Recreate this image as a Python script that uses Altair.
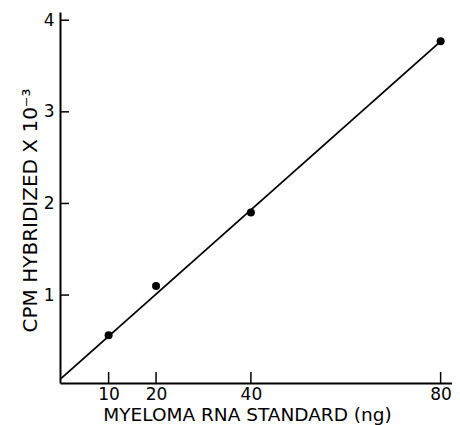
import altair as alt
import pandas as pd

# data
x_vals = [10, 20, 40, 80]
y_vals = [0.56, 1.10, 1.90, 3.77]
fit_x = [0, 80]
fit_y = [0.09, 3.77]
x_ticks = [10, 20, 40, 80]
y_ticks = [1, 2, 3, 4]

W, H = 392, 371
FONT = "DejaVu Sans"

xscale = alt.Scale(domain=[-0.25, 82.4], nice=False, zero=False)
yscale = alt.Scale(domain=[0.04, 4.09], nice=False, zero=False)

pts = pd.DataFrame({"x": x_vals, "y": y_vals})
fit = pd.DataFrame({"x": fit_x, "y": fit_y})
xt = pd.DataFrame({"x": x_ticks})
yt = pd.DataFrame({"y": y_ticks})

x_axis = alt.Axis(
    values=x_ticks, format="d", ticks=False, tickSize=0, grid=False,
    domainColor="black", domainWidth=2,
    labelFont=FONT, labelFontSize=17, labelColor="black", labelPadding=3,
    labelFlush=False,
    title="MYELOMA RNA STANDARD (ng)", titleFont=FONT, titleFontSize=18.5,
    titleFontWeight="normal", titleColor="black",
    titleX=187, titleY=31, titleBaseline="middle", titleAlign="center",
)
y_axis = alt.Axis(
    values=y_ticks, format="d", ticks=False, tickSize=0, grid=False,
    domainColor="black", domainWidth=2,
    labelFont=FONT, labelFontSize=17, labelColor="black", labelPadding=6,
    labelFlush=False,
    title="CPM HYBRIDIZED X 10⁻³", titleFont=FONT, titleFontSize=20,
    titleFontWeight="normal", titleColor="black",
    titleX=-30, titleY=198, titleBaseline="middle", titleAlign="center",
    titleAngle=270,
)

X = alt.X("x:Q", scale=xscale, axis=x_axis)
Y = alt.Y("y:Q", scale=yscale, axis=y_axis)

line = alt.Chart(fit).mark_line(color="black", strokeWidth=1.8).encode(x=X, y=Y)
points = alt.Chart(pts).mark_circle(color="black", size=64, opacity=1).encode(x=X, y=Y)
xticks = alt.Chart(xt).mark_rule(color="black", strokeWidth=1.5).encode(
    x=X,
    y=alt.value(H),
    y2=alt.value(H - 11),
)
yticks = alt.Chart(yt).mark_rule(color="black", strokeWidth=1.5).encode(
    y=Y,
    x=alt.value(0),
    x2=alt.value(9),
)

chart = alt.layer(line, xticks, yticks, points).properties(
    width=W, height=H,
    padding={"left": 52, "top": 4, "right": 0, "bottom": 42},
    autosize="none",
).configure_view(stroke=None)

chart.save("out.html", embed_options={"renderer": "svg", "actions": False})
